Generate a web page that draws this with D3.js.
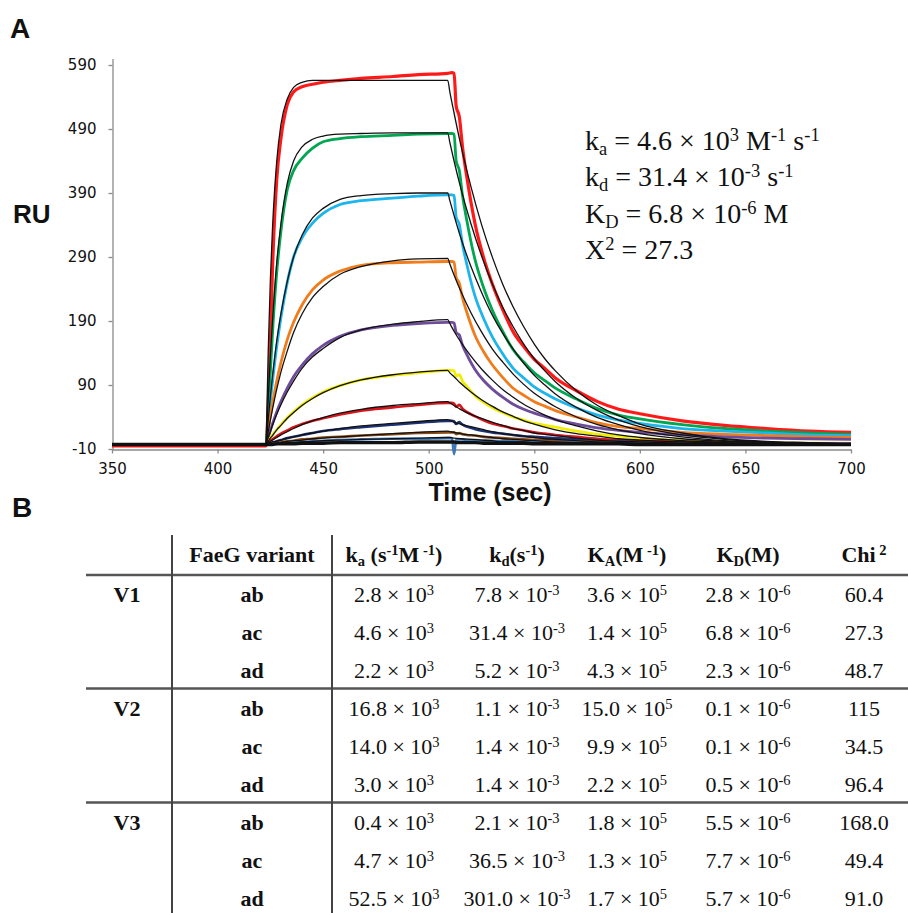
<!DOCTYPE html>
<html>
<head>
<meta charset="utf-8">
<script src="https://cdn.jsdelivr.net/npm/d3@7"></script>
<style>
  body { margin: 0; background: #fff; }
  svg text { fill: #111; white-space: pre; }
</style>
</head>
<body>
<div id="fig"></div>
<script>
// ---- panel A data (RU vs sec) ----
var expTime = [350, 423, 424, 425, 426, 428, 430, 433, 436, 440, 445, 450, 458, 468, 483, 495, 509, 511, 512, 513, 514.5, 516, 518, 522, 526, 530, 535, 540, 545, 550, 555, 560, 570, 580, 590, 600, 620, 640, 660, 680, 700]
var expRed    = [-5, -5, 60, 160, 270, 410, 475, 528, 548, 556, 560, 563, 566, 569, 572, 575, 577, 578, 577, 526, 509, 462, 416, 341, 289, 249, 208, 173, 150, 130, 116, 101, 81, 64, 52, 45, 34, 27, 22, 18, 16]
var expGreen  = [-3, -3, 50, 110, 170, 265, 330, 395, 425, 444, 460, 470, 475, 478, 480, 482, 483, 483, 482, 440, 425, 386, 348, 285, 242, 208, 174, 145, 126, 109, 97, 85, 68, 53, 43, 37, 28, 22, 18, 15, 13]
var expCyan   = [-3, -3, 30, 65, 95, 150, 195, 250, 290, 320, 343, 358, 372, 378, 382, 385, 387, 387, 386, 352, 341, 310, 279, 228, 194, 166, 139, 116, 101, 87, 77, 68, 54, 43, 35, 30, 22, 18, 15, 12, 11]
var expOrange = [-3, -3, 20, 42, 61, 96, 125, 161, 188, 215, 239, 254, 268, 277, 281, 282, 283, 283, 282, 258, 249, 226, 204, 167, 142, 122, 102, 85, 74, 64, 57, 50, 40, 31, 25, 22, 16, 13, 11, 9, 8]
var expPurple = [-3, -3, 8, 19, 29, 48, 64, 85, 103, 121, 139, 152, 166, 176, 183, 186, 188, 188, 187, 172, 168, 152, 138, 114, 97, 84, 71, 60, 52, 46, 41, 36, 29, 23, 19, 16, 12, 9, 7, 6, 5]
var expYellow = [-3, -3, 2, 7, 12, 20, 28, 39, 48, 59, 70, 79, 89, 98, 105, 109, 113, 113, 112, 104, 106, 96, 88, 73, 63, 55, 47, 40, 35, 30, 27, 24, 18, 13, 10, 7, 3, 1, 0, -1, -1]
var expRed2   = [-3, -3, 0, 3, 5, 10, 14, 19, 24, 29, 34, 38, 44, 50, 55, 59, 62, 62, 61, 56, 59, 53, 48, 41, 35, 30, 26, 22, 19, 16, 14, 12, 9, 6, 4, 3, 1, 0, -1, -1, -1]
var expNavy   = [-3, -3, -2, -1, 0, 2, 4, 7, 9, 12, 15, 18, 21, 24, 28, 31, 34, 34, 33, 29, 32, 28, 25, 21, 18, 16, 14, 12, 10, 9, 8, 7, 5, 3, 2, 1, 0, -1, -1, -2, -2]
var expBrown  = [-3, -3, -3, -2, -2, -1, 1, 2, 3, 5, 6, 8, 9, 11, 13, 15, 16, 16, 16, 13, 15, 13, 12, 11, 9, 8, 7, 6, 5, 4, 4, 3, 2, 1, 1, 0, -1, -1, -2, -2, -2]
var expSteel  = [-3, -3, -3, -3, -2, -2, -1, 0, 0, 1, 2, 3, 4, 5, 6, 6, 7, 7, -18, 4, 5, 5, 4, 4, 3, 3, 2, 2, 1, 1, 1, 0, 0, -1, -1, -1, -2, -2, -2, -2, -2]
var expDark   = [-3, -3, -3, -3, -3, -2, -2, -2, -2, -1, -1, -1, 0, 0, 0, 1, 1, 1, 1, 0, 0, 0, 0, 0, -1, -1, -1, -1, -1, -2, -2, -2, -2, -2, -2, -3, -3, -3, -3, -3, -3]

// fitted (black) curves
var fitTime = [423, 424, 425, 426, 428, 430, 433, 436, 440, 445, 450, 458, 468, 483, 495, 509, 510, 512, 515, 520, 525, 530, 535, 540, 545, 550, 555, 560, 570, 580, 590, 600, 620, 640, 660, 680, 700]
var fitRed    = [-3, 144, 254, 334, 439, 497, 537, 555, 563, 566, 566, 566, 566, 566, 566, 566, 548, 515, 468, 400, 341, 291, 248, 212, 181, 154, 131, 112, 81, 58, 42, 29, 15, 6, 2, 0, -2]
var fitGreen  = [-3, 70, 135, 190, 280, 342, 405, 440, 462, 474, 479, 482, 483, 484, 484, 484, 469, 440, 400, 342, 292, 249, 212, 181, 154, 131, 112, 95, 69, 50, 35, 25, 12, 5, 1, -1, -2]
var fitCyan   = [-3, 36, 72, 103, 158, 201, 252, 290, 324, 351, 366, 380, 386, 389, 390, 390, 378, 355, 322, 275, 235, 200, 171, 146, 124, 105, 90, 76, 55, 39, 28, 19, 9, 3, 0, -1, -2]
var fitOrange = [-3, 17, 35, 52, 83, 110, 143, 172, 201, 227, 244, 263, 275, 284, 287, 288, 279, 262, 238, 203, 173, 147, 126, 107, 91, 77, 66, 56, 40, 28, 20, 14, 6, 2, 0, -2, -2]
var fitPurple = [-3, 8, 17, 27, 44, 59, 79, 96, 116, 134, 147, 164, 176, 185, 189, 192, 186, 174, 158, 135, 115, 98, 83, 71, 60, 51, 43, 36, 26, 18, 12, 8, 3, 0, -1, -2, -3]
var fitYellow = [-3, 2, 7, 11, 20, 27, 38, 47, 58, 69, 78, 89, 98, 106, 110, 113, 109, 103, 93, 79, 67, 57, 48, 41, 34, 29, 24, 20, 14, 10, 6, 4, 1, -1, -2, -2, -3]
var fitRed2   = [-3, -1, 2, 4, 8, 12, 17, 22, 28, 34, 39, 46, 52, 58, 61, 64, 62, 58, 52, 44, 38, 32, 27, 22, 19, 15, 13, 11, 7, 4, 2, 1, -1, -2, -2, -3, -3]
var fitNavy   = [-3, -2, -1, 1, 2, 4, 7, 9, 12, 15, 18, 22, 26, 30, 33, 36, 35, 32, 29, 25, 21, 17, 14, 12, 10, 8, 6, 5, 3, 1, 0, -1, -2, -2, -3, -3, -3]
var fitBrown  = [-3, -3, -2, -2, -1, 0, 2, 3, 4, 6, 7, 9, 11, 14, 16, 18, 17, 16, 14, 12, 10, 8, 6, 5, 4, 3, 2, 1, 0, -1, -1, -2, -2, -3, -3, -3, -3]
var fitSteel  = [-3, -3, -3, -2, -2, -1, 0, 0, 1, 2, 3, 4, 5, 6, 7, 8, 8, 7, 6, 5, 4, 3, 1, 1, 1, 0, 0, -1, -1, -2, -2, -2, -3, -3, -3, -3, -3]

var xTicks = [350, 400, 450, 500, 550, 600, 650, 700]
var yTicks = [-10, 90, 190, 290, 390, 490, 590]

// ---- panel B data ----
var groups   = ['V1', 'V2', 'V3']
var variants = ['ab', 'ac', 'ad', 'ab', 'ac', 'ad', 'ab', 'ac', 'ad']
var kaVals   = ['2.8', '4.6', '2.2', '16.8', '14.0', '3.0', '0.4', '4.7', '52.5']
var kdVals   = ['7.8', '31.4', '5.2', '1.1', '1.4', '1.4', '2.1', '36.5', '301.0']
var KAVals   = ['3.6', '1.4', '4.3', '15.0', '9.9', '2.2', '1.8', '1.3', '1.7']
var KDVals   = ['2.8', '6.8', '2.3', '0.1', '0.1', '0.5', '5.5', '7.7', '5.7']
var chiVals  = ['60.4', '27.3', '48.7', '115', '34.5', '96.4', '168.0', '49.4', '91.0']

var W = 908, H = 913
var svg = d3.select('#fig').append('svg').attr('width', W).attr('height', H)

var sans = 'DejaVu Sans, Verdana, sans-serif'
var arial = 'Liberation Sans, Arial, sans-serif'
var serif = 'Liberation Serif, Times New Roman, serif'

// text with sub/superscripts
function rich(sel, x, y, parts, size, anchor, weight) {
    var t = sel.append('text').attr('x', x).attr('y', y)
        .attr('font-family', serif).attr('font-size', size)
        .attr('text-anchor', anchor || 'start')
        .attr('font-weight', weight || 'normal')
    var cur = 0
    parts.forEach(function (p) {
        var s = typeof p === 'string' ? { t: p, m: '' } : p
        var target = s.m == 'sup' ? -size * 0.32 : (s.m == 'sub' ? size * 0.18 : 0)
        var ts = t.append('tspan').attr('dy', target - cur).text(s.t)
        if (s.m) ts.attr('font-size', size * 0.66)
        cur = target
    })
    return t
}
function sup(t) { return { t: t, m: 'sup' } }
function sub(t) { return { t: t, m: 'sub' } }

// ================= panel A =================
var x = d3.scaleLinear().domain([350, 700]).range([112, 851])
var y = d3.scaleLinear().domain([-10, 600]).range([449, 58.6])

svg.append('text').text('A').attr('x', 10).attr('y', 38)
    .attr('font-family', arial).attr('font-weight', 'bold').attr('font-size', 28)

var yAxis = svg.append('g').attr('transform', 'translate(112.5,0)')
    .call(d3.axisLeft(y).tickValues(yTicks).tickFormat(d => String(d))
        .tickSize(4).tickSizeOuter(0).tickPadding(12))
var xAxis = svg.append('g').attr('transform', 'translate(0,449.5)')
    .call(d3.axisBottom(x).tickValues(xTicks).tickFormat(d => String(d))
        .tickSize(4).tickSizeOuter(0).tickPadding(10))
svg.selectAll('.domain, .tick line').attr('stroke', '#8a8a8a').attr('stroke-width', 1.3)
svg.selectAll('.tick text').attr('font-family', sans).attr('font-size', 15).attr('fill', '#1a1a1a')

svg.append('text').text('RU').attr('x', 13).attr('y', 223)
    .attr('font-family', arial).attr('font-weight', 'bold').attr('font-size', 26)
svg.append('text').text('Time (sec)').attr('x', 490).attr('y', 501).attr('text-anchor', 'middle')
    .attr('font-family', arial).attr('font-weight', 'bold').attr('font-size', 25)

var line = d3.line().curve(d3.curveMonotoneX)

var expSeries = [
    { v: expRed, c: '#ff1a1a', w: 3.2 },
    { v: expGreen, c: '#00a651', w: 2.8 },
    { v: expCyan, c: '#1cb5ec', w: 2.8 },
    { v: expOrange, c: '#f07c1c', w: 2.8 },
    { v: expPurple, c: '#6e4c9a', w: 2.8 },
    { v: expYellow, c: '#f2ee00', w: 2.8 },
    { v: expRed2, c: '#d9151c', w: 2.6 },
    { v: expNavy, c: '#1d3272', w: 2.6 },
    { v: expBrown, c: '#8a4b16', w: 2.6 },
    { v: expSteel, c: '#3f78b8', w: 2.6 },
    { v: expDark, c: '#111', w: 3.4 }
]
var fitSeries = [fitRed, fitGreen, fitCyan, fitOrange, fitPurple, fitYellow, fitRed2, fitNavy, fitBrown, fitSteel]

var plot = svg.append('g')
plot.selectAll('.exp')
    .data(expSeries)
    .enter()
    .append('path')
    .attr('class', 'exp')
    .attr('fill', 'none')
    .attr('stroke', d => d.c)
    .attr('stroke-width', d => d.w)
    .attr('stroke-linejoin', 'round')
    .attr('d', d => line(d.v.map((v, i) => [x(expTime[i]), y(v)])))

plot.selectAll('.fit')
    .data(fitSeries)
    .enter()
    .append('path')
    .attr('class', 'fit')
    .attr('fill', 'none')
    .attr('stroke', '#111')
    .attr('stroke-width', 1.3)
    .attr('d', d => line(d.map((v, i) => [x(fitTime[i]), y(v)])))

// fitted constants
var ann = svg.append('g')
var annY = [150, 186, 223, 259]
rich(ann, 585, annY[0], ['k', sub('a'), ' = 4.6 \u00d7 10', sup('3'), ' M', sup('-1'), ' s', sup('-1')], 28)
rich(ann, 585, annY[1], ['k', sub('d'), ' = 31.4 \u00d7 10', sup('-3'), ' s', sup('-1')], 28)
rich(ann, 585, annY[2], ['K', sub('D'), ' = 6.8 \u00d7 10', sup('-6'), ' M'], 28)
rich(ann, 585, annY[3], ['X', sup('2'), ' = 27.3'], 28)

// ================= panel B =================
svg.append('text').text('B').attr('x', 12).attr('y', 517)
    .attr('font-family', arial).attr('font-weight', 'bold').attr('font-size', 28)

var tb = svg.append('g')
var colX = [127, 252, 394, 517, 627, 748, 864]
var rowY = d3.scaleLinear().domain([0, 8]).range([602, 906])
var headY = 562

// rules
tb.append('line').attr('x1', 86).attr('x2', W).attr('y1', 575).attr('y2', 575)
    .attr('stroke', '#555').attr('stroke-width', 2.6)
;[3, 6].forEach(function (r) {
    var yy = (rowY(r - 1) + rowY(r)) / 2 - 8.5
    tb.append('line').attr('x1', 86).attr('x2', W).attr('y1', yy).attr('y2', yy)
        .attr('stroke', '#555').attr('stroke-width', 2.6)
})
;[172, 332].forEach(function (xx) {
    tb.append('line').attr('x1', xx).attr('x2', xx).attr('y1', 535).attr('y2', H)
        .attr('stroke', '#444').attr('stroke-width', 2)
})

// header
var fs = 22
rich(tb, colX[1], headY, ['FaeG variant'], fs, 'middle', 'bold')
rich(tb, colX[2], headY, ['k', sub('a'), ' (s', sup('-1'), 'M', sup(' -1'), ')'], fs, 'middle', 'bold')
rich(tb, colX[3], headY, ['k', sub('d'), '(s', sup('-1'), ')'], fs, 'middle', 'bold')
rich(tb, colX[4], headY, ['K', sub('A'), '(M', sup(' -1'), ')'], fs, 'middle', 'bold')
rich(tb, colX[5], headY, ['K', sub('D'), '(M)'], fs, 'middle', 'bold')
rich(tb, colX[6], headY, ['Chi', sup(' 2')], fs, 'middle', 'bold')

// body
groups.forEach(function (g, i) {
    rich(tb, colX[0], rowY(i * 3), [g], fs, 'middle', 'bold')
})
variants.forEach(function (v, i) {
    var yy = rowY(i)
    rich(tb, colX[1], yy, [v], fs, 'middle', 'bold')
    rich(tb, colX[2], yy, [kaVals[i] + ' \u00d7 10', sup('3')], fs, 'middle')
    rich(tb, colX[3], yy, [kdVals[i] + ' \u00d7 10', sup('-3')], fs, 'middle')
    rich(tb, colX[4], yy, [KAVals[i] + ' \u00d7 10', sup('5')], fs, 'middle')
    rich(tb, colX[5], yy, [KDVals[i] + ' \u00d7 10', sup('-6')], fs, 'middle')
    rich(tb, colX[6], yy, [chiVals[i]], fs, 'middle')
})
</script>
</body>
</html>
